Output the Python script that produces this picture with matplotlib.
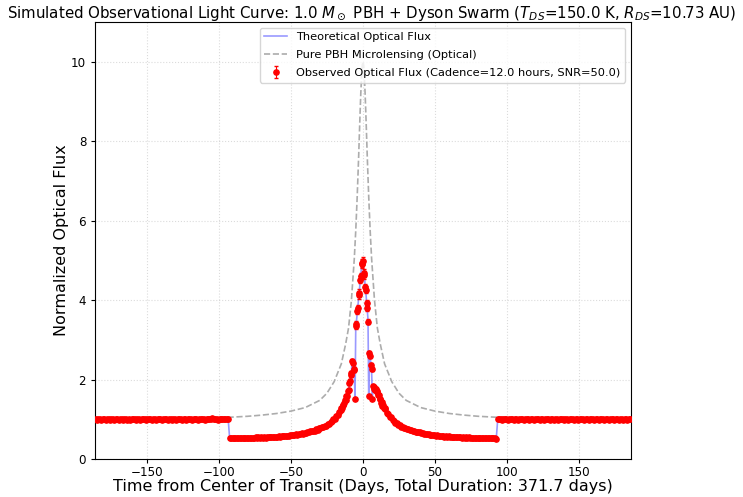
import numpy as np
import matplotlib
matplotlib.use("Agg")
import matplotlib.pyplot as plt

SNR = 50.0
half_span = 371.7 / 2

# pure PBH microlensing curve (|t| in days -> magnification)
pbh_abs_t = [0, 0.5, 1, 1.5, 2, 3, 4, 5, 6, 8, 10, 12, 15, 20, 25, 30, 40, 50,
             60, 70, 80, 93, 110, 130, 150, 185.85]
pbh_abs_flux = [10.0, 9.9, 9.6, 9.2, 8.7, 7.6, 6.6, 5.75, 5.05, 4.0, 3.3, 2.9, 2.4,
                1.95, 1.66, 1.48, 1.30, 1.21, 1.15, 1.11, 1.08, 1.055, 1.04, 1.03,
                1.025, 1.02]

# theoretical flux during transit, outer wings (|t| = 15.5 .. 92.5, step 1)
wing_theory = [1.24, 1.18, 1.125, 1.07, 1.03, 0.99, 0.96, 0.93, 0.90, 0.87,
               0.85, 0.83, 0.812, 0.795, 0.78, 0.765, 0.752, 0.74, 0.727, 0.715,
               0.705, 0.695, 0.687, 0.68, 0.67, 0.66, 0.652, 0.645, 0.637, 0.63,
               0.625, 0.62, 0.613, 0.607, 0.602, 0.598, 0.594, 0.59, 0.586, 0.582,
               0.579, 0.576, 0.573, 0.57, 0.567, 0.565, 0.563, 0.561, 0.559, 0.557,
               0.555, 0.553, 0.551, 0.549, 0.547, 0.546, 0.544, 0.543, 0.542, 0.541,
               0.540, 0.539, 0.538, 0.537, 0.536, 0.535, 0.534, 0.533, 0.532, 0.531,
               0.530, 0.529, 0.529, 0.528, 0.528, 0.527, 0.527, 0.526]

# theoretical flux in the core (t = -15 .. 15, step 0.5)
core_theory = [1.27, 1.30, 1.34, 1.38, 1.43, 1.47, 1.52, 1.57, 1.62, 1.68,
               1.76, 1.88, 2.00, 2.10, 2.21, 2.50, 2.40, 2.32, 2.21, 1.50,
               3.30, 3.47, 3.66, 3.86, 4.05, 4.25, 4.45, 4.65, 4.83, 4.97,
               4.90, 4.75, 4.58, 4.40, 4.20, 3.98, 3.75, 3.52, 1.55, 2.72,
               2.55, 2.42, 2.22, 1.55, 1.80, 1.79, 1.78, 1.76, 1.74, 1.71,
               1.68, 1.64, 1.59, 1.54, 1.49, 1.45, 1.41, 1.37, 1.34, 1.30,
               1.27]

# observed fluxes (12 h cadence, thinned to one per day outside the core)
obs_base_left = [1.01, 0.99, 1.00, 1.02, 0.98, 1.00, 1.01, 0.99, 1.02, 1.00,
                 0.98, 1.01, 1.00, 0.99, 1.02, 1.01, 0.98, 1.00, 1.01, 0.99,
                 1.00, 1.02, 0.99, 1.01, 0.98, 1.00, 1.01, 1.00, 0.99, 1.02,
                 1.01, 0.99, 1.00, 1.02, 1.00, 0.98, 1.01, 1.00, 1.02, 0.99,
                 1.01, 1.00, 0.99, 1.02, 1.00, 1.01, 0.98, 1.00, 1.02, 1.01,
                 0.99, 1.00, 1.01, 0.98, 1.02, 1.00, 0.99, 1.01, 1.00, 1.02,
                 0.99, 1.01, 1.00, 0.98, 1.01, 1.02, 1.00, 0.99, 1.01, 1.00,
                 1.02, 0.99, 1.01, 1.00, 1.02, 1.01, 0.99, 1.00, 1.02, 1.01,
                 1.00, 1.03, 1.01, 1.00, 1.02, 0.99, 1.01, 1.02, 1.00, 1.01,
                 1.02, 1.00, 1.01]
obs_wing_left = [0.531, 0.522, 0.533, 0.523, 0.534, 0.524, 0.535, 0.525, 0.537, 0.527,
                 0.539, 0.529, 0.541, 0.531, 0.543, 0.533, 0.545, 0.535, 0.547, 0.537,
                 0.549, 0.539, 0.552, 0.542, 0.555, 0.546, 0.559, 0.550, 0.563, 0.554,
                 0.567, 0.558, 0.571, 0.562, 0.576, 0.568, 0.582, 0.574, 0.588, 0.581,
                 0.596, 0.589, 0.604, 0.597, 0.613, 0.608, 0.626, 0.620, 0.637, 0.631,
                 0.652, 0.646, 0.667, 0.664, 0.687, 0.681, 0.702, 0.699, 0.722, 0.721,
                 0.748, 0.745, 0.773, 0.773, 0.803, 0.805, 0.838, 0.843, 0.879, 0.892,
                 0.940, 0.951, 1.000, 1.021, 1.081, 1.114, 1.192, 1.228]
obs_core = [1.29, 1.28, 1.36, 1.37, 1.41, 1.49, 1.50, 1.59, 1.60, 1.71,
            1.74, 1.91, 1.97, 2.13, 2.18, 2.46, 2.43, 2.28, 2.25, 1.52,
            3.34, 3.41, 3.72, 3.80, 4.12, 4.19, 4.52, 4.60, 4.90, 4.93,
            4.98, 4.68, 4.63, 4.33, 4.26, 3.92, 3.81, 3.46, 1.58, 2.68,
            2.60, 2.38, 2.27, 1.52, 1.84, 1.76, 1.81, 1.73, 1.77, 1.68,
            1.71, 1.61, 1.62, 1.51, 1.52, 1.42, 1.44, 1.34, 1.36, 1.28,
            1.29]
obs_wing_right = [1.26, 1.16, 1.14, 1.06, 1.05, 0.98, 0.97, 0.92, 0.91, 0.86,
                  0.86, 0.82, 0.820, 0.787, 0.789, 0.758, 0.760, 0.733, 0.735, 0.709,
                  0.712, 0.688, 0.694, 0.674, 0.677, 0.654, 0.659, 0.640, 0.644, 0.624,
                  0.632, 0.613, 0.619, 0.601, 0.609, 0.592, 0.600, 0.585, 0.592, 0.577,
                  0.585, 0.570, 0.579, 0.565, 0.573, 0.559, 0.569, 0.556, 0.565, 0.552,
                  0.561, 0.548, 0.557, 0.544, 0.553, 0.541, 0.550, 0.538, 0.548, 0.536,
                  0.546, 0.534, 0.544, 0.532, 0.542, 0.530, 0.540, 0.528, 0.538, 0.526,
                  0.536, 0.524, 0.535, 0.523, 0.534, 0.522, 0.533, 0.521]
obs_base_right = [1.02, 1.00, 1.01, 0.99, 1.02, 1.01, 1.00, 0.99, 1.01, 1.02,
                  1.00, 0.99, 1.01, 1.00, 0.98, 1.01, 1.02, 1.00, 0.99, 1.01,
                  1.00, 1.02, 0.99, 1.00, 1.01, 0.98, 1.00, 1.02, 1.01, 0.99,
                  1.00, 1.01, 0.99, 1.02, 1.00, 1.01, 0.98, 1.00, 1.01, 0.99,
                  1.02, 1.00, 0.99, 1.01, 1.00, 1.02, 0.99, 1.01, 1.00, 0.98,
                  1.01, 1.00, 1.02, 0.99, 1.00, 1.01, 0.99, 1.02, 1.00, 1.01,
                  0.99, 1.00, 1.01, 0.98, 1.00, 1.02, 1.00, 0.99, 1.01, 1.00,
                  0.99, 1.01, 1.02, 1.00, 0.98, 1.01, 1.00, 0.99, 1.01, 1.00,
                  1.02, 0.99, 1.00, 1.01, 0.98, 1.00, 1.01, 0.99, 1.00, 1.01,
                  0.99, 1.00, 1.01]

# time grids
t_base_left = np.linspace(-185.5, -93.5, len(obs_base_left))
t_wing_left = np.linspace(-92.5, -15.5, len(obs_wing_left))
t_core = np.linspace(-15, 15, len(obs_core))
t_wing_right = np.linspace(15.5, 92.5, len(obs_wing_right))
t_base_right = np.linspace(93.5, 185.5, len(obs_base_right))

pbh_t = np.concatenate([-np.array(pbh_abs_t[:0:-1]), pbh_abs_t])
pbh_flux = np.concatenate([pbh_abs_flux[:0:-1], pbh_abs_flux])

theory_t = np.concatenate([[-half_span, -93.5],
                           np.linspace(-92.5, -15.5, len(wing_theory)), t_core,
                           np.linspace(15.5, 92.5, len(wing_theory)),
                           [93.5, half_span]])
theory_flux = np.concatenate([[1.0, 1.0], wing_theory[::-1], core_theory, wing_theory,
                              [1.0, 1.0]])

obs_t = np.concatenate([t_base_left, t_wing_left, t_core, t_wing_right, t_base_right])
obs_flux = np.concatenate([obs_base_left, obs_wing_left, obs_core, obs_wing_right,
                           obs_base_right])

fig = plt.figure(figsize=(7.43, 4.97), dpi=100)
ax = fig.add_axes([0.128, 0.076, 0.721, 0.880])

ax.plot(theory_t, theory_flux, color="blue", alpha=0.4, lw=1.2,
        label="Theoretical Optical Flux", zorder=2)
ax.plot(pbh_t, pbh_flux, color="gray", ls="--", alpha=0.65, lw=1.2,
        label="Pure PBH Microlensing (Optical)", zorder=1)
ax.errorbar(obs_t, obs_flux, yerr=obs_flux / SNR, fmt="o", color="red",
            markersize=3.8, capsize=1.6, elinewidth=0.8,
            label="Observed Optical Flux (Cadence=12.0 hours, SNR=50.0)", zorder=3)

ax.set_xlim(-half_span, half_span)
ax.set_ylim(0, 11)
ax.grid(True, ls=":", alpha=0.45)
ax.tick_params(labelsize=8.6, length=2.9)
ax.tick_params(axis="x", pad=2)
fig.suptitle(r"Simulated Observational Light Curve: 1.0 $M_\odot$ PBH + Dyson Swarm "
             r"($T_{DS}$=150.0 K, $R_{DS}$=10.73 AU)", fontsize=10.8, x=0.5, y=0.973,
             va="center")
ax.set_xlabel("Time from Center of Transit (Days, Total Duration: 371.7 days)",
              fontsize=11.5, labelpad=0)
ax.set_ylabel("Normalized Optical Flux", fontsize=11.5, labelpad=1.5)
ax.legend(loc="upper right", fontsize=8.2, labelspacing=0.7)

fig.savefig("out.png", dpi=100)
